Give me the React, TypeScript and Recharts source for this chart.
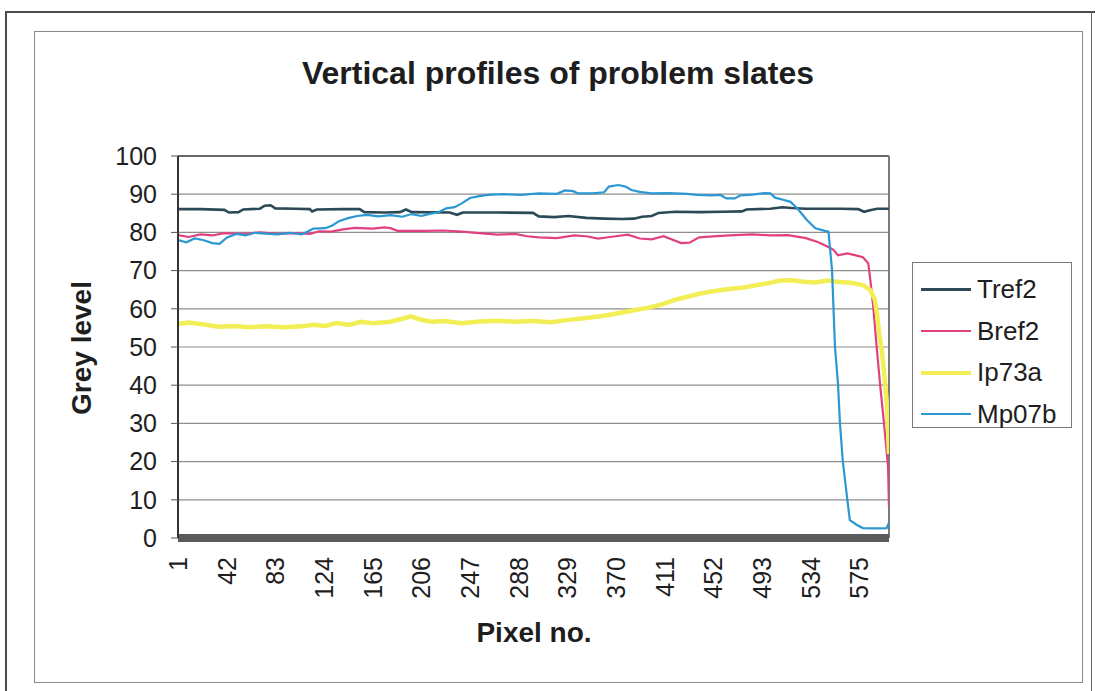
import React from "react";
import {
  LineChart,
  Line,
  XAxis,
  YAxis,
  CartesianGrid,
  ReferenceLine,
  Legend,
} from "recharts";

// Pixel-row profiles: [pixel no., grey level]
const tref2: [number, number][] = [
  [1, 86.1], [20, 86.1], [40, 85.9], [44, 85.2], [52, 85.3], [56, 86], [70, 86.2], [74, 87],
  [79, 87.1], [83, 86.3], [100, 86.2], [112, 86.1], [114, 85.5], [118, 86], [140, 86.1],
  [154, 86.1], [158, 85.3], [175, 85.2], [188, 85.3], [193, 86], [198, 85.3], [230, 85.2],
  [236, 84.6], [241, 85.2], [270, 85.2], [300, 85.1], [305, 84.2], [318, 84], [330, 84.3],
  [345, 83.8], [360, 83.6], [375, 83.5], [385, 83.6], [392, 84.1], [400, 84.3], [406, 85.1],
  [420, 85.4], [440, 85.3], [460, 85.4], [476, 85.5], [480, 86], [500, 86.2], [510, 86.6],
  [518, 86.4], [530, 86.2], [560, 86.2], [574, 86.1], [579, 85.4], [584, 85.8], [590, 86.2],
  [600, 86.2],
];

const bref2: [number, number][] = [
  [1, 79.3], [10, 78.8], [20, 79.5], [30, 79.2], [40, 79.8], [55, 79.6], [70, 80], [85, 79.6],
  [100, 79.8], [112, 79.6], [120, 80.3], [130, 80.2], [140, 80.8], [150, 81.2], [165, 81],
  [175, 81.3], [180, 81.1], [186, 80.4], [210, 80.4], [225, 80.5], [240, 80.2], [255, 79.8],
  [270, 79.4], [285, 79.6], [295, 79], [305, 78.7], [320, 78.5], [335, 79.2], [345, 79],
  [355, 78.4], [365, 78.8], [380, 79.4], [390, 78.4], [400, 78.2], [410, 79], [425, 77.2],
  [432, 77.3], [440, 78.7], [455, 79], [470, 79.3], [485, 79.5], [500, 79.2], [515, 79.3],
  [530, 78.5], [540, 77.5], [548, 76.3], [553, 75.5], [557, 74], [565, 74.5], [572, 74],
  [578, 73.5], [582.5, 71.9], [584.5, 67], [586.7, 60.6], [589.6, 50.1], [592.4, 40.5],
  [596.6, 27.4], [599.2, 18.7], [600, 8],
];

const ip73a: [number, number][] = [
  [1, 56], [10, 56.4], [20, 56], [35, 55.3], [50, 55.5], [60, 55.2], [75, 55.4], [90, 55.2],
  [105, 55.4], [115, 55.8], [125, 55.5], [135, 56.3], [145, 55.8], [155, 56.6], [165, 56.2],
  [180, 56.6], [190, 57.4], [197, 58], [205, 57.2], [215, 56.6], [225, 56.8], [240, 56.2],
  [255, 56.7], [270, 56.9], [285, 56.6], [300, 56.8], [315, 56.5], [330, 57.1], [345, 57.6],
  [360, 58.2], [373, 58.9], [385, 59.6], [398, 60.3], [410, 61.3], [420, 62.4], [432, 63.3],
  [441, 64], [452, 64.6], [465, 65.2], [478, 65.6], [490, 66.3], [500, 66.8], [508, 67.4],
  [518, 67.5], [528, 67.1], [538, 66.9], [548, 67.4], [558, 67], [568, 66.8], [578, 66.2],
  [584, 65], [588, 62.5], [590, 58.5], [592, 53], [594, 49], [596, 43], [598, 36], [599, 30],
  [600, 22],
];

const mp07b: [number, number][] = [
  [1, 78], [8, 77.4], [15, 78.4], [22, 78], [30, 77.2], [36, 77], [42, 78.6], [50, 79.6],
  [58, 79.2], [66, 79.9], [75, 79.7], [85, 79.5], [95, 79.9], [105, 79.5], [110, 80.2],
  [115, 81], [125, 81.1], [131, 81.8], [137, 83], [145, 83.8], [152, 84.3], [160, 84.6],
  [170, 84.2], [180, 84.5], [190, 84.1], [198, 84.8], [206, 84.3], [214, 84.9], [220, 85.2],
  [227, 86.3], [234, 86.6], [240, 87.6], [247, 89], [255, 89.5], [262, 89.8], [275, 90],
  [290, 89.8], [305, 90.2], [320, 90.1], [327, 91], [334, 90.8], [338, 90.2], [350, 90.2],
  [360, 90.5], [364, 92], [372, 92.4], [378, 92], [383, 91.1], [390, 90.6], [400, 90.2],
  [415, 90.3], [430, 90.1], [438, 89.8], [450, 89.7], [458, 89.8], [463, 88.9], [470, 88.9],
  [475, 89.7], [485, 89.9], [495, 90.3], [500, 90.2], [504, 89.1], [510, 88.6], [517, 88],
  [523, 86.2], [531, 83.2], [538, 81.1], [546, 80.4], [549, 80.2], [552, 70.2], [554.5, 50],
  [557, 40.5], [558.7, 30], [561, 20.4], [564.6, 10.8], [567, 4.7], [573, 3.4], [578, 2.6],
  [590, 2.5], [598, 2.6], [600, 4],
];

const xTicks = [1, 42, 83, 124, 165, 206, 247, 288, 329, 370, 411, 452, 493, 534, 575];
const yTicks = [0, 10, 20, 30, 40, 50, 60, 70, 80, 90, 100];

const seriesNames = ["Tref2", "Bref2", "Ip73a", "Mp07b"];
const seriesColors = ["#2c4a56", "#e2417f", "#f2ee56", "#2b98d2"];
const seriesWidths = [2.6, 2.2, 4.5, 2.2];
const seriesData = [tref2, bref2, ip73a, mp07b];

const FONT = '"Liberation Sans", Arial, Helvetica, sans-serif';

const toRows = (pairs: [number, number][]) => pairs.map(([px, v]) => ({ px, v }));

const XTick = (props: any) => {
  const { x, y, payload } = props;
  return (
    <text
      x={x}
      y={y}
      transform={`rotate(-90 ${x} ${y})`}
      textAnchor="end"
      dominantBaseline="central"
      fontFamily={FONT}
      fontSize={25}
      fill="#1e1e1e"
    >
      {payload.value}
    </text>
  );
};

const LegendBox = () => (
  <div
    style={{
      width: 160,
      height: 166,
      border: "1.5px solid #7a7a7a",
      background: "#fff",
      boxSizing: "border-box",
      paddingTop: 6,
      fontFamily: FONT,
    }}
  >
    {seriesNames.map((name, i) => (
      <div
        key={name}
        style={{ display: "flex", alignItems: "center", height: 41.5 }}
      >
        <div
          style={{
            marginLeft: 8,
            width: 50,
            height: seriesWidths[i],
            background: seriesColors[i],
          }}
        />
        <span style={{ marginLeft: 6, fontSize: 26, color: "#1e1e1e" }}>{name}</span>
      </div>
    ))}
  </div>
);

export default function App() {
  return (
    <div
      style={{
        position: "absolute",
        left: 0,
        top: 0,
        width: 1095,
        height: 691,
        background: "#fff",
        fontFamily: FONT,
        overflow: "hidden",
      }}
    >
      {/* page frame */}
      <div style={{ position: "absolute", left: 5, top: 11, width: 1090, borderTop: "2px solid #4a4a4a" }} />
      <div style={{ position: "absolute", left: 5, top: 11, height: 680, borderLeft: "2px solid #4a4a4a" }} />
      <div style={{ position: "absolute", left: 1091, top: 11, height: 680, borderLeft: "1.5px solid #6a6a6a" }} />
      {/* chart area box */}
      <div
        style={{
          position: "absolute",
          left: 34,
          top: 31,
          width: 1049,
          height: 652,
          border: "1.5px solid #8a8a8a",
          boxSizing: "border-box",
        }}
      />

      <div
        style={{
          position: "absolute",
          left: 158,
          width: 800,
          top: 55,
          lineHeight: "36px",
          textAlign: "center",
          fontSize: 32,
          fontWeight: "bold",
          color: "#1e1e1e",
        }}
      >
        Vertical profiles of problem slates
      </div>

      <div
        style={{
          position: "absolute",
          left: 82 - 100,
          top: 348 - 18,
          width: 200,
          lineHeight: "36px",
          textAlign: "center",
          fontSize: 28,
          fontWeight: "bold",
          color: "#1e1e1e",
          transform: "rotate(-90deg)",
        }}
      >
        Grey level
      </div>

      <div
        style={{
          position: "absolute",
          left: 534 - 100,
          top: 633 - 18,
          width: 200,
          lineHeight: "36px",
          textAlign: "center",
          fontSize: 28,
          fontWeight: "bold",
          color: "#1e1e1e",
        }}
      >
        Pixel no.
      </div>

      <div style={{ position: "absolute", left: 0, top: 0 }}>
        <LineChart
          width={1095}
          height={691}
          margin={{ top: 156, right: 206, bottom: 83, left: 118 }}
        >
          <CartesianGrid horizontal vertical={false} stroke="#8e8e8e" strokeWidth={1.2} />
          <XAxis
            type="number"
            dataKey="px"
            domain={[1, 600]}
            ticks={xTicks}
            interval={0}
            allowDataOverflow
            height={70}
            tick={<XTick />}
            tickLine={false}
            tickSize={5}
            tickMargin={14}
            axisLine={{ stroke: "#5a5a5a", strokeWidth: 8 }}
          />
          <YAxis
            type="number"
            domain={[0, 100]}
            ticks={yTicks}
            interval={0}
            width={60}
            tickSize={7}
            tickMargin={14}
            tick={{ fontFamily: FONT, fontSize: 25, fill: "#1e1e1e" }}
            tickLine={{ stroke: "#555" }}
            axisLine={{ stroke: "#333", strokeWidth: 2 }}
          />
          <ReferenceLine y={100} stroke="#6a6a6a" strokeWidth={2} />
          <ReferenceLine x={600} stroke="#7a7a7a" strokeWidth={2} />
          {seriesNames.map((name, i) => (
            <Line
              key={name}
              name={name}
              data={toRows(seriesData[i])}
              dataKey="v"
              type="linear"
              stroke={seriesColors[i]}
              strokeWidth={seriesWidths[i]}
              dot={false}
              activeDot={false}
              isAnimationActive={false}
            />
          ))}
          <Legend
            layout="vertical"
            align="center"
            verticalAlign="middle"
            content={<LegendBox />}
            wrapperStyle={{ left: 912, top: 262, width: 160, height: 166 }}
          />
        </LineChart>
      </div>
    </div>
  );
}
